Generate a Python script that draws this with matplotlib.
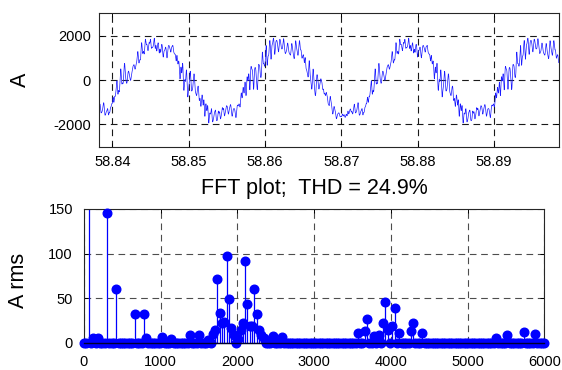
import numpy as np
import matplotlib
matplotlib.use("Agg")
import matplotlib.pyplot as plt

plt.rcParams['font.family'] = ['Liberation Sans', 'DejaVu Sans']
plt.rcParams['axes.unicode_minus'] = False

# ---------------- data ----------------
fund_hz = 60
bin_step_hz = 30
f_max_hz = 6000

# harmonic spectrum: frequency (Hz), rms amplitude (A), phase (deg)
peak_freqs = [60, 120, 180, 300, 420, 660, 780, 810, 1020, 1140, 1380, 1500,
              1620, 1680, 1710, 1740, 1770, 1800, 1830, 1860, 1890, 1920, 1950,
              2010, 2040, 2070, 2100, 2130, 2160, 2190, 2220, 2250, 2280, 2310,
              2340, 2460, 2580, 3570, 3660, 3690, 3780, 3840, 3900, 3930, 3960,
              4020, 4050, 4110, 4260, 4290, 4410, 5370, 5520, 5730, 5880]
peak_amps = [1120, 6, 6, 146, 60, 32, 32, 6, 7, 5, 9, 9,
             3, 10, 15, 72, 34, 22, 24, 97, 49, 17, 9,
             5, 15, 22, 92, 44, 19, 19, 61, 32, 15, 9,
             6, 8, 7, 11, 13, 27, 8, 9, 22, 46, 15,
             19, 39, 11, 13, 22, 11, 6, 9, 12, 10]
peak_phase_deg = [-90, 0, 90, 45, 90, 0, 0, 90, 0, 90, 180, 270,
                  0, 120, 250, 0, 0, 200, 310, 0, -90, 150, 40,
                  280, 70, 220, 0, 180, 330, 110, 0, 90, 260, 20,
                  170, 300, 60, 240, 0, 270, 130, 350, 180, 0, 210,
                  90, 0, 300, 180, 90, 30, 0, 90, 180, 270]

t_start, t_end = 58.8383, 58.8985
t_zero = 58.8416

time_ticks = [58.84, 58.85, 58.86, 58.87, 58.88, 58.89]
time_tick_labels = ['58.84', '58.85', '58.86', '58.87', '58.88', '58.89']
current_ticks = [-2000, 0, 2000]
current_lim = (-3000, 3000)
freq_ticks = [0, 1000, 2000, 3000, 4000, 5000, 6000]
rms_ticks = [0, 50, 100, 150]
rms_lim = (0, 150)
thd_percent = 24.9

# ---------------- derived ----------------
freqs = np.arange(0, f_max_hz + bin_step_hz, bin_step_hz)
amps = np.zeros(len(freqs))
for f, a in zip(peak_freqs, peak_amps):
    amps[int(round(f / bin_step_hz))] = a

t = np.linspace(t_start, t_end, 16000)
current = np.zeros_like(t)
for f, a, p in zip(peak_freqs, peak_amps, peak_phase_deg):
    current += a * np.sqrt(2) * np.cos(2 * np.pi * f * (t - t_zero) + np.deg2rad(p))

# ---------------- figure ----------------
W, H = 562, 370
fig = plt.figure(figsize=(W / 100, H / 100), dpi=100)

def ax_rect(l, r, top, bot):
    return [l / W, 1 - bot / H, (r - l) / W, (bot - top) / H]

ax1 = fig.add_axes(ax_rect(99.3, 558.7, 13.3, 146.7))
ax2 = fig.add_axes(ax_rect(84, 544.3, 209, 343))

dash = (0, (6.0, 4.2))
for ax, gcol in ((ax1, '0.1'), (ax2, '0.3')):
    ax.grid(True, linestyle=dash, color=gcol, linewidth=0.8)
    ax.set_axisbelow(True)
    ax.tick_params(direction='in', top=True, right=True, length=3, width=0.7,
                   labelsize=10.5, pad=6)
    for s in ax.spines.values():
        s.set_linewidth(0.8)
        s.set_color('0.15')

# top: time waveform
ax1.plot(t, current, color='#1a1aff', linewidth=0.5)
ax1.set_xlim(t_start, t_end)
ax1.set_ylim(*current_lim)
ax1.set_xticks(time_ticks)
ax1.set_xticklabels(time_tick_labels)
ax1.set_yticks(current_ticks)

# bottom: FFT stem plot
ax2.vlines(freqs, 0, amps, color='blue', linewidth=0.9, zorder=2)
mask = amps <= rms_lim[1]
ax2.plot(freqs[mask], amps[mask], 'o', color='blue', markersize=6.2,
         markeredgecolor='blue', clip_on=False, zorder=3)
ax2.axhline(0, color='#000030', linewidth=1.0, zorder=4, clip_on=False)
ax2.set_xlim(0, f_max_hz)
ax2.set_ylim(*rms_lim)
ax2.set_xticks(freq_ticks)
ax2.set_yticks(rms_ticks)
ax2.tick_params(axis='x', pad=9)
ax2.tick_params(axis='y', pad=8)

# labels
fig.text(20 / W, 1 - 80 / H, 'A', rotation=90, ha='center', va='center', fontsize=15.5)
fig.text(18 / W, 1 - 280 / H, 'A rms', rotation=90, ha='center', va='center', fontsize=15.5)
fig.text((84 + 544.3) / 2 / W, 1 - 194 / H, f'FFT plot;  THD = {thd_percent}%',
         ha='center', va='baseline', fontsize=15.5)

fig.savefig('out.png', dpi=100)
